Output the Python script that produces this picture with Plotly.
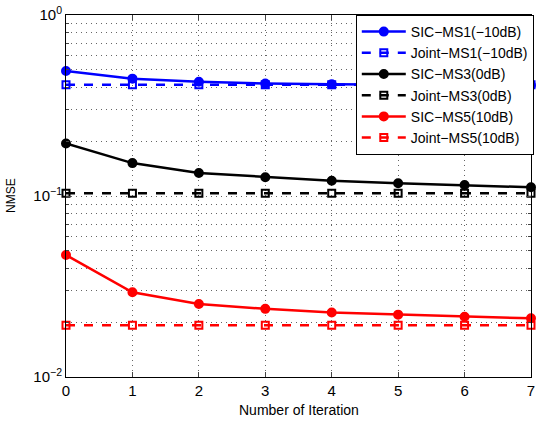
import plotly.graph_objects as go

iterations = [0, 1, 2, 3, 4, 5, 6, 7]
sic_ms1 = [0.49, 0.445, 0.428, 0.418, 0.414, 0.411, 0.41, 0.409]
joint_ms1 = [0.412] * 8
sic_ms3 = [0.195, 0.152, 0.134, 0.127, 0.1215, 0.1175, 0.115, 0.1117]
joint_ms3 = [0.1035] * 8
sic_ms5 = [0.0472, 0.0294, 0.0253, 0.0238, 0.0227, 0.0221, 0.0215, 0.0211]
joint_ms5 = [0.0193] * 8

series = [
    ("SIC\u2212MS1(\u221210dB)", sic_ms1, "#0000ff", "solid", "circle"),
    ("Joint\u2212MS1(\u221210dB)", joint_ms1, "#0000ff", "dash", "square-open"),
    ("SIC\u2212MS3(0dB)", sic_ms3, "#000000", "solid", "circle"),
    ("Joint\u2212MS3(0dB)", joint_ms3, "#000000", "dash", "square-open"),
    ("SIC\u2212MS5(10dB)", sic_ms5, "#ff0000", "solid", "circle"),
    ("Joint\u2212MS5(10dB)", joint_ms5, "#ff0000", "dash", "square-open"),
]

fig = go.Figure()
for name, vals, color, dash, sym in series:
    fig.add_trace(go.Scatter(
        x=iterations, y=vals, name=name, mode="lines+markers",
        line=dict(color=color, width=2.5, dash=dash),
        marker=dict(symbol=sym, size=8 if sym == "circle" else 7, color=color,
                    line=dict(color=color, width=2)),
        cliponaxis=False,
    ))

minor_vals = []
for d in [0.01, 0.1]:
    for k in range(2, 10):
        minor_vals.append(k * d)

font = "Liberation Sans, Arial, Helvetica, sans-serif"
grid_dash = "1px,4px"
grid_color = "#666"
fig.update_layout(
    width=543, height=421,
    margin=dict(l=66, r=12, t=15, b=44, autoexpand=False),
    paper_bgcolor="white", plot_bgcolor="white",
    font=dict(family=font, size=14, color="black"),
    showlegend=True,
    legend=dict(x=1.006, xanchor="right", y=1.0, yanchor="top",
                bgcolor="white", bordercolor="black", borderwidth=1,
                font=dict(size=14, family=font), itemwidth=44,
                tracegroupgap=0),
    xaxis=dict(range=[0, 7], tickvals=iterations, ticks="inside", ticklen=5,
               showline=True, linecolor="black", linewidth=1, mirror="allticks",
               showgrid=True, gridcolor=grid_color, griddash=grid_dash, gridwidth=1,
               zeroline=False, automargin=False, ticklabeloverflow="allow",
               tickfont=dict(size=15)),
    yaxis=dict(type="log", range=[-2, 0], tickvals=[0.01, 0.1, 1],
               ticktext=["10<sup>\u22122</sup>", "10<sup>\u22121</sup>", "10<sup>0</sup>"],
               ticks="inside", ticklen=5,
               showline=True, linecolor="black", linewidth=1, mirror="allticks",
               showgrid=True, gridcolor=grid_color, griddash=grid_dash, gridwidth=1,
               minor=dict(tickvals=minor_vals, ticks="inside", ticklen=3,
                          showgrid=True, gridcolor=grid_color, griddash=grid_dash, gridwidth=1),
               zeroline=False, automargin=False, ticklabeloverflow="allow",
               tickfont=dict(size=15)),
    annotations=[
        dict(text="Number of Iteration", xref="paper", yref="paper",
             x=0.5, y=-0.091, xanchor="center", yanchor="middle",
             showarrow=False, font=dict(size=14)),
        dict(text="NMSE", xref="paper", yref="paper",
             x=(11 - 66) / 465, y=0.5, xanchor="center", yanchor="middle",
             textangle=-90, showarrow=False, font=dict(size=12)),
    ],
)

# remove the browser's default 8px body margin so the figure fills the window
fig.write_html("out.html", config={"displayModeBar": False},
               post_script="document.body.style.margin='0px';")
